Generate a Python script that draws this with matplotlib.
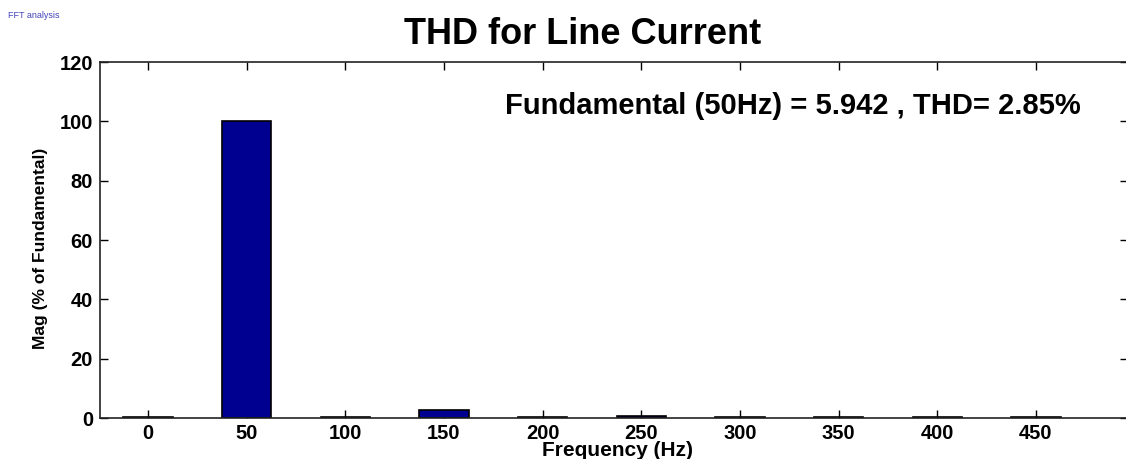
import numpy as np
import matplotlib.pyplot as plt

plt.rcParams['font.family'] = ['Liberation Sans', 'DejaVu Sans']

# FFT spectrum data (% of fundamental)
freqs = [0, 50, 100, 150, 200, 250, 300, 350, 400, 450]
mags = [0.3, 100, 0.3, 2.7, 0.3, 0.8, 0.3, 0.3, 0.3, 0.3]
fundamental = 5.942
thd = 2.85

W, H = 1126, 459
fig = plt.figure(figsize=(W / 100, H / 100), dpi=100)
ax_w, ax_h = 1128 - 100, 418 - 62
ax = fig.add_axes([100 / W, (H - 418) / H, ax_w / W, ax_h / H])

ax.bar(freqs, mags, width=25, color='#000090', edgecolor='black', linewidth=1.2)
ax.set_axisbelow(True)

ax.set_xlim(-24.3, 496.7)
ax.set_ylim(0, 120)
ax.set_xticks(freqs)
ax.set_yticks(np.arange(0, 121, 20))
ax.tick_params(direction='in', length=6, width=1, top=True, right=True,
               labelsize=14.5)
ax.tick_params(axis='x', pad=4)
ax.tick_params(axis='y', pad=5)
for lab in ax.get_xticklabels() + ax.get_yticklabels():
    lab.set_fontweight('bold')
for s in ax.spines.values():
    s.set_linewidth(1.2)
    s.set_color('#222222')

# axis labels placed where the reference has them
ax.set_xlabel('Frequency (Hz)', fontsize=15, fontweight='bold')
ax.xaxis.set_label_coords((617 - 100) / ax_w, -(451 - 418) / ax_h)
ax.xaxis.label.set_va('center')
ax.set_ylabel('Mag (% of Fundamental)', fontsize=12.5, fontweight='bold')
ax.yaxis.set_label_coords(-(100 - 41) / ax_w, (418 - 248) / ax_h)
ax.yaxis.label.set_va('center')

fig.text(583 / W, 1 - 35 / H, 'THD for Line Current', fontsize=26,
         fontweight='bold', ha='center', va='center')

ax.text(181, 105, f'Fundamental (50Hz) = {fundamental} , THD= {thd:.2f}%',
        fontsize=21, fontweight='bold', va='center', ha='left')

fig.text(8 / W, 1 - 15 / H, 'FFT analysis', fontsize=6.5, color='#4444bb',
         va='center', ha='left')

fig.savefig('out.png', dpi=100)
